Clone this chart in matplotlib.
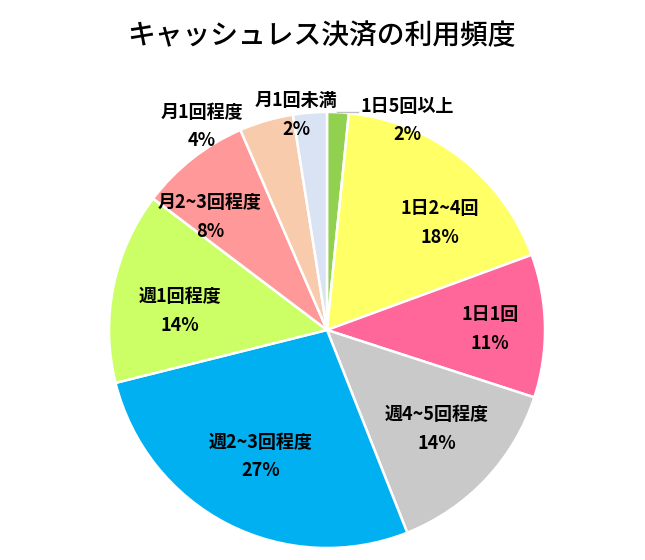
import matplotlib
matplotlib.use("Agg")
import matplotlib.pyplot as plt

plt.rcParams['font.family'] = ['Noto Sans CJK JP', 'DejaVu Sans']

# データ（上から時計回り）
categories = ["1日5回以上", "1日2~4回", "1日1回", "週4~5回程度", "週2~3回程度",
              "週1回程度", "月2~3回程度", "月1回程度", "月1回未満"]
shares = [1.6, 17.8, 10.6, 14.0, 27.1, 14.2, 8.2, 4.0, 2.5]
pct_labels = ["2%", "18%", "11%", "14%", "27%", "14%", "8%", "4%", "2%"]
colors = ["#92D050", "#FFFF66", "#FF6699", "#C9C9C9", "#00B0F0",
          "#CCFF66", "#FF9999", "#F8CBAD", "#DAE3F3"]

# ラベルの位置（ピクセル, 名前の中心）
label_px = [(407, 106), (440, 209), (490, 315), (437, 415), (261, 442),
            (180, 297), (210, 203), (202, 112), (296, 101)]

W, H = 645, 560
cx, cy, R = 327, 330, 218

fig = plt.figure(figsize=(W / 100, H / 100), dpi=100)
ax = fig.add_axes([(cx - R) / W, (H - cy - R) / H, 2 * R / W, 2 * R / H])
ax.pie(shares, colors=colors, startangle=90, counterclock=False,
       wedgeprops=dict(edgecolor="white", linewidth=1.8))
ax.set_xlim(-1, 1)
ax.set_ylim(-1, 1)
ax.axis("off")


def to_data(px, py):
    return (px - cx) / R, (cy - py) / R


for name, pct, (px, py) in zip(categories, pct_labels, label_px):
    x, y = to_data(px, py)
    ax.text(x, y, name, ha="center", va="center", fontsize=13, fontweight="bold")
    x2, y2 = to_data(px, py + 28.5)
    ax.text(x2, y2, pct, ha="center", va="center", fontsize=13, fontweight="bold")

# 引き出し線
x1, y1 = to_data(337, 112)
x2, y2 = to_data(358, 112)
ax.plot([x1, x2], [y1, y2], color="#BFBFBF", linewidth=1, clip_on=False)

fig.text(321 / W, 1 - 36 / H, "キャッシュレス決済の利用頻度", ha="center", va="center",
         fontsize=20, fontweight="medium")

fig.savefig("out.png", dpi=100, facecolor="white")
